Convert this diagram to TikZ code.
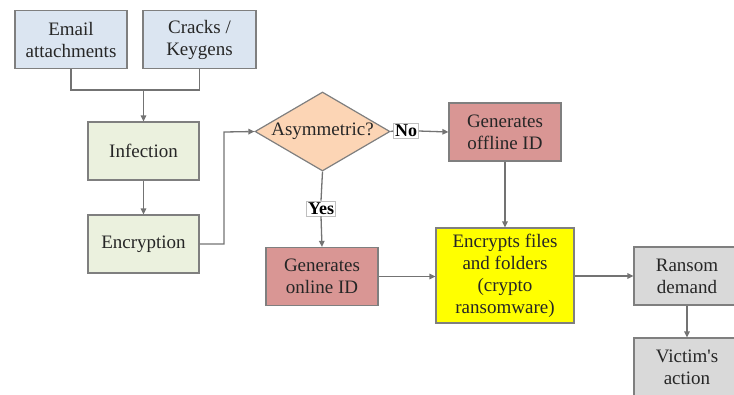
\documentclass[tikz,border=0pt]{standalone}
\usepackage{fontspec}
\setmainfont{Liberation Serif}[Ligatures=TeXOff]
\usetikzlibrary{shapes.geometric,arrows.meta}
\definecolor{bluefill}{HTML}{DBE5F1}
\definecolor{greenfill}{HTML}{EBF1DE}
\definecolor{peachfill}{HTML}{FCD5B5}
\definecolor{redfill}{HTML}{D99694}
\definecolor{yellowfill}{HTML}{FFFF00}
\definecolor{grayfill}{HTML}{D9D9D9}
\definecolor{edgegray}{HTML}{7F7F7F}
\definecolor{linegray}{HTML}{737373}
\definecolor{txt}{HTML}{262626}
\tikzset{
  lbl/.style={text=txt, font=\rmfamily\fontsize{19}{22}\selectfont},
  box/.style={lbl, draw=edgegray, line width=1.2pt, minimum width=#1, minimum height=58pt, inner sep=2pt,
    align=center},
  box/.default=112pt,
  decision/.style={diamond, aspect=1.7, draw=edgegray, line width=1.2pt, fill=peachfill, minimum width=135pt,
    minimum height=79pt, inner sep=0pt},
  tag/.style={draw=edgegray!50, line width=0.6pt, fill=white, inner sep=1.5pt, text=black,
    font=\rmfamily\fontsize{18}{20}\selectfont\bfseries},
  conn/.style={draw=linegray, line width=1.3pt},
  arr/.style={conn, -{Triangle[width=5.5pt,length=6pt]}}
}
\begin{document}
\begin{tikzpicture}[x=1pt,y=-1pt]
\useasboundingbox (0,0) rectangle (734,394);
\clip (0,0) rectangle (734,394);
\node[box, fill=bluefill] (email) at (71,39.5) {Email\\attachments};
\node[box=113pt, fill=bluefill] (cracks) at (199.5,39.5) {Cracks /\\Keygens};
\node[box=111pt, fill=greenfill] (infection) at (143.5,151) {Infection};
\node[box=111pt, fill=greenfill] (encryption) at (143.5,244) {Encryption};
\node[decision] (dia) at (322.5,131.5) {};
\node[lbl] (diatext) at (dia.center) {Asymmetric?};
\node[tag] (no) at (406,131) {No};
\node[tag] (yes) at (321,208.5) {Yes};
\node[box, fill=redfill] (offline) at (505,132) {Generates\\offline ID};
\node[box, fill=redfill] (online) at (322,276.5) {Generates\\online ID};
\node[box=138pt, minimum height=95pt, fill=yellowfill] (encrypts) at (505,275.5) {Encrypts files\\and folders\\(crypto\\ransomware)};
\node[box=106pt, fill=grayfill] (ransom) at (687,276) {Ransom\\demand};
\node[box=106pt, fill=grayfill] (victim) at (687,367) {Victim's\\action};
\coordinate (j) at (143.5,90);
\coordinate (k) at (224,132);
\draw[conn] (email.south) |- (j) -| (cracks.south);
\draw[arr] (j) -- (infection.north);
\draw[arr] (infection.south) -- (encryption.north);
\draw[arr] (encryption.east) -| (k) -- (dia.west);
\draw[conn] (dia.east) -- (no.west);
\draw[arr] (no.east) -- (offline.west);
\draw[conn] (dia.south) -- (yes.north);
\draw[arr] (yes.south) -- (online.north);
\draw[arr] (offline.south) -- (encrypts.north);
\draw[arr] (online.east) -- (online.east -| encrypts.west);
\draw[arr] (encrypts.east |- ransom.west) -- (ransom.west);
\draw[arr] (ransom.south) -- (victim.north);
\end{tikzpicture}
\end{document}
